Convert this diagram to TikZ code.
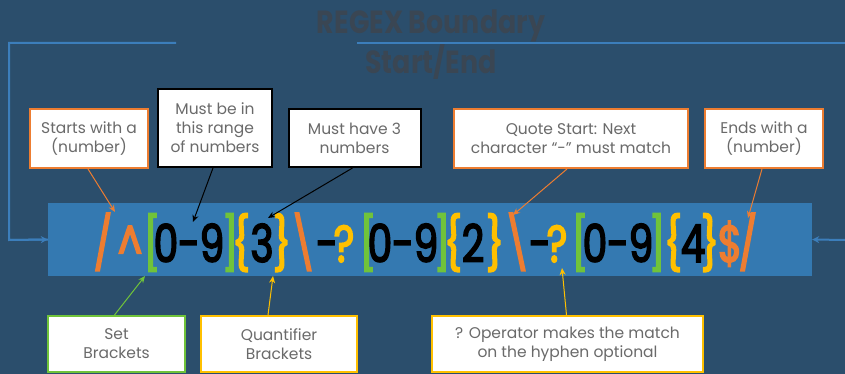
\documentclass[tikz,border=0pt]{standalone}
\usepackage{fontspec}
\setmainfont{Poppins}
\newfontfamily\rxfont{Poppins}[FakeStretch=0.75,FakeBold=3]
\newfontfamily\ttlfont{Poppins}[FakeStretch=0.84]
\usetikzlibrary{arrows.meta}
\definecolor{bg}{HTML}{2B4E6C}
\definecolor{rectblue}{HTML}{3479B1}
\definecolor{bline}{HTML}{3C7EBB}
\definecolor{titlec}{HTML}{3A4653}
\definecolor{orng}{HTML}{ED7D31}
\definecolor{grn}{HTML}{70C33A}
\definecolor{gold}{HTML}{FFC000}
\definecolor{boxtext}{HTML}{6A6A6A}
\tikzset{
  callout/.style={draw, line width=2pt, fill=white, text=boxtext, align=center,
    font=\fontsize{15.5}{19}\selectfont, inner sep=0pt},
  rx/.style={anchor=base, inner sep=0pt, font=\rxfont\fontsize{52}{52}\selectfont},
  tipc/.style={-{Stealth[length=7pt,width=6pt]}, line width=1pt},
  bnd/.style={draw=bline, line width=2pt},
}
\begin{document}
\begin{tikzpicture}[x=1pt,y=-1pt]
\fill[bg] (0,0) rectangle (845,374);
\useasboundingbox (0,0) rectangle (845,374);
% title
\node[text=titlec, align=center, font=\ttlfont\fontsize{32}{32}\selectfont\bfseries] (title) at (431,45) {REGEX Boundary\\Start/End};
% regex bar
\node[fill=rectblue, minimum width=764pt, minimum height=73pt, inner sep=0pt] (bar) at (430,239.5) {};
% boundary lines
\coordinate (bl1) at (176,43);
\coordinate (bl2) at (9,43);
\coordinate (bl3) at (9,240);
\coordinate (br1) at (357,43);
\coordinate (br2) at (846,43);
\coordinate (br3) at (846,240);
\draw[bnd] (bl1) -- (bl2) -- (bl3) -- (bar.west);
\draw[bnd, -{Stealth[length=7pt,width=7pt]}] (bl3) -- (bar.west);
\draw[bnd] (br1) -- (br2);
\draw[bnd, -{Stealth[length=7pt,width=7pt]}] (br3) -- (bar.east);
% regex characters
\node[rx, text=orng] (c1) at (103,262) {/};
\node[rx, text=orng] (c2) at (130,262) {\textasciicircum};
\node[rx, text=grn] (c3) at (152,262) {[};
\node[rx, text=black] (c4) at (189,262) {0-9};
\node[rx, text=grn] (c5) at (230,262) {]};
\node[rx, text=gold] (c6) at (241,262) {\{};
\node[rx, text=black] (c7) at (262,262) {3};
\node[rx, text=gold] (c8) at (282,262) {\}};
\node[rx, text=orng] (c9) at (303,262) {\textbackslash};
\node[rx, text=black] (c10) at (327,262) {-};
\node[rx, text=gold] (c11) at (344,262) {?};
\node[rx, text=grn] (c12) at (368,262) {[};
\node[rx, text=black] (c13) at (403,262) {0-9};
\node[rx, text=grn] (c14) at (442,262) {]};
\node[rx, text=gold] (c15) at (453,262) {\{};
\node[rx, text=black] (c16) at (473,262) {2};
\node[rx, text=gold] (c17) at (495,262) {\}};
\node[rx, text=orng] (c18) at (517,262) {\textbackslash};
\node[rx, text=black] (c19) at (540,262) {-};
\node[rx, text=gold] (c20) at (557,262) {?};
\node[rx, text=grn] (c21) at (580,262) {[};
\node[rx, text=black] (c22) at (618,262) {0-9};
\node[rx, text=grn] (c23) at (657,262) {]};
\node[rx, text=gold] (c24) at (673,262) {\{};
\node[rx, text=black] (c25) at (693,262) {4};
\node[rx, text=gold] (c26) at (710,262) {\}};
\node[rx, text=orng] (c27) at (730,262) {\$};
\node[rx, text=orng] (c28) at (748,262) {/};
% callouts top
\node[callout, draw=orng, minimum width=118pt, minimum height=59pt] (b1) at (89,138.5) {Starts with a\\(number)};
\node[callout, draw=black, minimum width=114pt, minimum height=78pt] (b2) at (215,128) {Must be in\\this range\\of numbers};
\node[callout, draw=black, minimum width=132pt, minimum height=58pt] (b3) at (354.5,138) {Must have 3\\numbers};
\node[callout, draw=orng, minimum width=234pt, minimum height=59pt] (b4) at (571,138.5) {Quote Start: Next\\character ``-'' must match};
\node[callout, draw=orng, minimum width=118pt, minimum height=59pt] (b5) at (764,138.5) {Ends with a\\(number)};
% callouts bottom
\node[callout, draw=grn, minimum width=137pt, minimum height=56pt] (b6) at (116.5,344) {Set\\Brackets};
\node[callout, draw=gold, minimum width=156pt, minimum height=56pt] (b7) at (279,344) {Quantifier\\Brackets};
\node[callout, draw=gold, minimum width=271pt, minimum height=56pt] (b8) at (567.5,344) {? Operator makes the match\\on the hyphen optional};
% arrow tips
\coordinate (t1) at (115,212);
\coordinate (t2) at (193,222);
\coordinate (t3) at (268,218);
\coordinate (t4) at (513,215);
\coordinate (t5) at (748,218);
\coordinate (t6) at (145,276);
\coordinate (t7) at (273,276);
\coordinate (t8) at (562,268);
\draw[tipc, orng] ([xshift=-1pt]b1.south) -- (t1);
\draw[tipc, black] ([xshift=-2pt]b2.south) -- (t2);
\draw[tipc, black] ([xshift=-2pt]b3.south) -- (t3);
\draw[tipc, orng] ([xshift=-4pt]b4.south) -- (t4);
\draw[tipc, orng] ([xshift=-2pt]b5.south) -- (t5);
\draw[tipc, grn] ([xshift=-2pt]b6.north) -- (t6);
\draw[tipc, gold] ([xshift=-11pt]b7.north) -- (t7);
\draw[tipc, gold] ([xshift=-1pt]b8.north) -- (t8);
\end{tikzpicture}
\end{document}
